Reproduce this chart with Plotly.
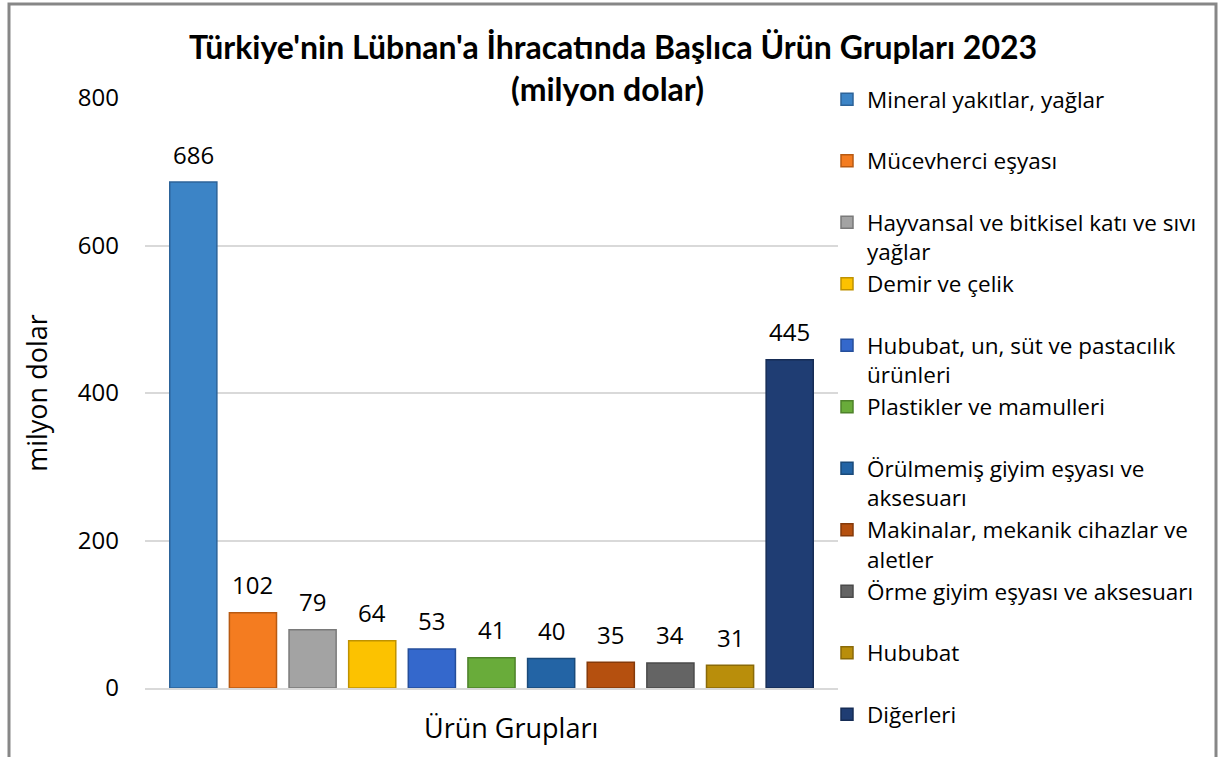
import plotly.graph_objects as go

title_line1 = "Türkiye'nin Lübnan'a İhracatında Başlıca Ürün Grupları 2023"
title_line2 = "(milyon dolar)"
category = "Ürün Grupları"
y_title = "milyon dolar"

series_names = [
    "Mineral yakıtlar, yağlar",
    "Mücevherci eşyası",
    "Hayvansal ve bitkisel katı ve sıvı yağlar",
    "Demir ve çelik",
    "Hububat, un, süt ve pastacılık ürünleri",
    "Plastikler ve mamulleri",
    "Örülmemiş giyim eşyası ve aksesuarı",
    "Makinalar, mekanik cihazlar ve aletler",
    "Örme giyim eşyası ve aksesuarı",
    "Hububat",
    "Diğerleri",
]
legend_labels = [
    "Mineral yakıtlar, yağlar<br> ",
    "Mücevherci eşyası<br> ",
    "Hayvansal ve bitkisel katı ve sıvı<br>yağlar",
    "Demir ve çelik<br> ",
    "Hububat, un, süt ve pastacılık<br>ürünleri",
    "Plastikler ve mamulleri<br> ",
    "Örülmemiş giyim eşyası ve<br>aksesuarı",
    "Makinalar, mekanik cihazlar ve<br>aletler",
    "Örme giyim eşyası ve aksesuarı<br> ",
    "Hububat<br> ",
    "Diğerleri",
]
values = [686, 102, 79, 64, 53, 41, 40, 35, 34, 31, 445]
colors = ["#3C84C6", "#F47C20", "#A3A3A3", "#FCC200", "#3468CC", "#69AC3A",
          "#2364A5", "#B5500F", "#646464", "#B98E0B", "#1F3D73"]
edge_colors = ["#2C6399", "#B85A12", "#7A7A7A", "#BF9200", "#254E9B", "#4E822A",
               "#1A4A7A", "#853A0A", "#4A4A4A", "#8A6A08", "#162C55"]
y_ticks = [0, 200, 400, 600, 800]

FONT = "Open Sans"
TITLE_FONT = "Lato"

fig = go.Figure()
for i, (name, v) in enumerate(zip(series_names, values)):
    fig.add_trace(go.Bar(
        x=[name], y=[v], name=legend_labels[i],
        marker=dict(color=colors[i], line=dict(color=edge_colors[i], width=1.5)),
        hovertemplate=name + ": %{y}<extra></extra>",
    ))
    fig.add_annotation(x=name, y=v, xref="x", yref="y", text=str(v),
                       showarrow=False, yanchor="middle", yshift=28,
                       font=dict(family=FONT, size=24, color="#000000"))

plot_l, plot_r, plot_t, plot_b = 145, 838, 98, 688
W, H = 1219, 757
plot_w = plot_r - plot_l
plot_h = plot_b - plot_t

def px_x(px):
    return (px - plot_l) / plot_w

def px_y(py):
    return (plot_b - py) / plot_h

fig.update_layout(
    width=W, height=H,
    margin=dict(l=plot_l, r=W - plot_r, t=plot_t, b=H - plot_b, autoexpand=False),
    paper_bgcolor="white", plot_bgcolor="white",
    barmode="overlay", bargap=0.21,
    font=dict(family=FONT, color="#000000"),
    showlegend=True,
    legend=dict(
        x=px_x(827), xanchor="left", y=px_y(78), yanchor="top",
        font=dict(family=FONT, size=22.5, color="#000000"),
        valign="top", tracegroupgap=0, maxheight=1000,
        bgcolor="rgba(0,0,0,0)",
    ),
    xaxis=dict(showticklabels=False, showgrid=False, zeroline=False,
               range=[-0.81, 10.81],
               showline=True, linecolor="#d9d9d9", linewidth=1.5),
    yaxis=dict(range=[0, 800], tickvals=y_ticks, showgrid=True,
               gridcolor="#d9d9d9", gridwidth=1.5, zeroline=False,
               showline=False, ticks="", ticklabelstandoff=25,
               tickfont=dict(family=FONT, size=24, color="#000000"),
               title=dict(text=y_title, font=dict(family=FONT, size=27),
                          standoff=22)),
)

fig.add_annotation(text="<b>" + title_line1 + "</b>", x=px_x(613), y=px_y(47),
                   xref="paper", yref="paper", showarrow=False,
                   xanchor="center", yanchor="middle",
                   font=dict(family=TITLE_FONT, size=32, color="#000000"))
fig.add_annotation(text="<b>" + title_line2 + "</b>", x=px_x(607), y=px_y(89),
                   xref="paper", yref="paper", showarrow=False,
                   xanchor="center", yanchor="middle",
                   font=dict(family=TITLE_FONT, size=32, color="#000000"))
fig.add_annotation(text=category, x=px_x(511), y=px_y(727),
                   xref="paper", yref="paper", showarrow=False,
                   xanchor="center", yanchor="middle",
                   font=dict(family=FONT, size=27, color="#000000"))

fig.add_shape(type="rect", xref="paper", yref="paper",
              x0=px_x(9), x1=px_x(1216), y0=px_y(800), y1=px_y(4),
              line=dict(color="#878787", width=3), fillcolor="rgba(0,0,0,0)",
              layer="above")

fig.write_html("out.html", config={"displayModeBar": False},
               post_script="document.body.style.margin='0';")
